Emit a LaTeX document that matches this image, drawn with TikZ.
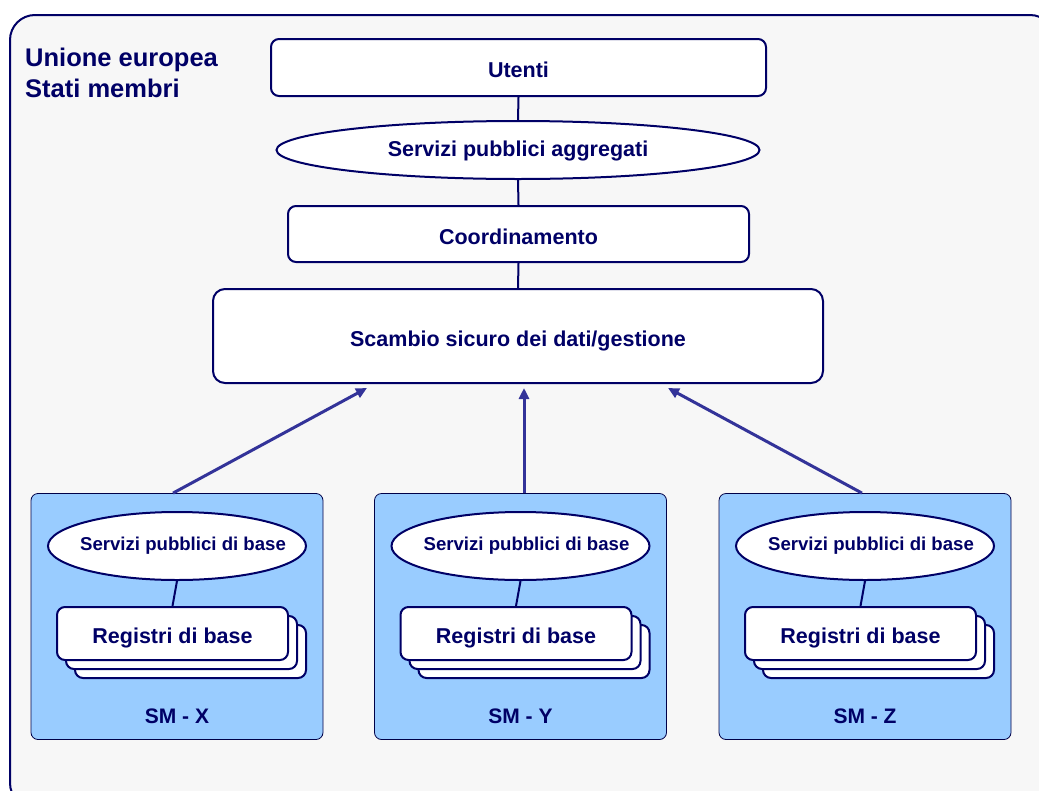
\documentclass[tikz,border=0pt]{standalone}
\usepackage{fontspec}
\setmainfont{Liberation Sans}
\usetikzlibrary{shapes.geometric,arrows.meta}
\definecolor{navy}{HTML}{000066}
\definecolor{arrowblue}{HTML}{333399}
\definecolor{smblue}{HTML}{99CCFF}
\definecolor{panel}{HTML}{F7F7F7}
% lower a label inside its box without changing the box size
\newcommand{\lowered}[2]{\raisebox{-#1}[\height][\depth]{#2}}
\tikzset{
  lbl/.style={text=navy,font=\bfseries},
  layerbox/.style={draw=navy,line width=2pt,fill=white,rounded corners=8pt,
    inner sep=0pt,lbl,font=\bfseries\fontsize{21.5}{24}\selectfont},
  layerellipse/.style={draw=navy,line width=2pt,fill=white,ellipse,inner sep=0pt,
    lbl,font=\bfseries\fontsize{21.5}{24}\selectfont},
  smbox/.style={draw=navy!70!black,line width=0.8pt,fill=smblue,rounded corners=7pt,
    minimum width=292pt,minimum height=246pt,inner sep=0pt},
  baseellipse/.style={draw=navy,line width=2pt,fill=white,ellipse,inner sep=0pt,
    minimum width=258pt,minimum height=68pt},
  ellipsetext/.style={lbl,font=\bfseries\fontsize{18.6}{21}\selectfont},
  regbox/.style={draw=navy,line width=2pt,fill=white,rounded corners=8pt,inner sep=0pt,
    minimum width=231pt,minimum height=53pt,lbl,font=\bfseries\fontsize{21.5}{24}\selectfont},
  link/.style={draw=navy,line width=2pt},
  uparrow/.style={draw=arrowblue,line width=3pt,-{Triangle[length=11pt,width=10pt]}},
  titletext/.style={lbl,font=\bfseries\fontsize{25.5}{30}\selectfont,anchor=base west,inner sep=0pt},
}
\begin{document}
\begin{tikzpicture}[x=1pt,y=-1pt]
\useasboundingbox (0,0) rectangle (1039,790);
% outer frame, running past the page edge on the right and bottom
\begin{scope}
\clip (0,0) rectangle (1039,790);
\draw[draw=navy,line width=2pt,fill=panel,rounded corners=25pt] (10,15) rectangle (1055,808);
\end{scope}

\node[titletext] (title1) at (25,66) {Unione europea};
\node[titletext] (title2) at (25,97) {Stati membri};

% central stack
\node[layerbox,minimum width=495pt,minimum height=57pt] (utenti) at (518.5,67.5) {\lowered{2pt}{Utenti}};
\node[layerellipse,minimum width=483pt,minimum height=58pt] (aggr) at (518,150) {\lowered{1pt}{Servizi pubblici aggregati}};
\node[layerbox,minimum width=461pt,minimum height=56pt] (coord) at (518.5,234) {\lowered{3pt}{Coordinamento}};
\node[layerbox,rounded corners=12pt,minimum width=610pt,minimum height=94pt] (scambio) at (518,336)
  {\lowered{5pt}{Scambio sicuro dei dati/gestione}};

\draw[link] (utenti.south) -- (aggr.north);
\draw[link] (aggr.south) -- (coord.north);
\draw[link] (coord.south) -- (scambio.north);

% member states
\foreach \n/\cx/\lab in {X/177/SM - X, Y/520.5/SM - Y, Z/865/SM - Z}{
  \node[smbox] (sm\n) at (\cx,616.5) {};
  \node[baseellipse] (srv\n) at (\cx,546) {};
  \node[ellipsetext] (srvt\n) at ({\cx+6},546) {Servizi pubblici di base};
  \node[regbox] (regc\n) at ({\cx-4.5+18},{633.5+18}) {};
  \node[regbox] (regb\n) at ({\cx-4.5+9},{633.5+9}) {};
  \node[regbox] (reg\n) at ({\cx-4.5},633.5) {\lowered{4pt}{Registri di base}};
  \node[lbl,font=\bfseries\fontsize{21}{24}\selectfont] (smlab\n) at (\cx,716) {\lab};
  \draw[link] (srv\n.south) -- (reg\n.north);
}

\coordinate (inX) at (367,388);
\coordinate (inY) at (524,388);
\coordinate (inZ) at (668,388);
\draw[uparrow] ([xshift=-4pt]smX.north) -- (inX);
\draw[uparrow] ([xshift=3.5pt]smY.north) -- (inY);
\draw[uparrow] ([xshift=-3pt]smZ.north) -- (inZ);
\end{tikzpicture}
\end{document}
